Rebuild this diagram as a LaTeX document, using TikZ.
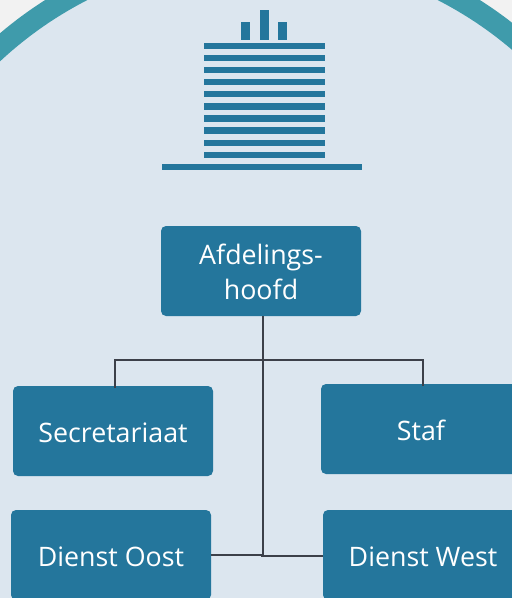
\documentclass[tikz,border=0pt]{standalone}
\usepackage{fontspec}
\setmainfont{Open Sans}
\definecolor{bgc}{HTML}{DCE6EF}
\definecolor{outc}{HTML}{F2F2F2}
\definecolor{ringc}{HTML}{3F9BAB}
\definecolor{boxc}{HTML}{24769C}
\definecolor{linec}{HTML}{3C4049}
\newcommand{\nudge}{\rule{0pt}{22.4pt}}
\tikzset{
  unit/.style={draw=none,fill=boxc,rounded corners=5pt,minimum width=200pt,minimum height=90pt,inner sep=0pt,text=white,align=center,font=\fontsize{26.8}{35}\selectfont},
  link/.style={draw=linec,line width=1.7pt},
  bar/.style={fill=boxc,draw=none}
}
\begin{document}
\begin{tikzpicture}[x=1pt,y=-1pt]
\useasboundingbox (0,0) rectangle (512,598);
\clip (0,0) rectangle (512,598);
\fill[outc] (0,0) rectangle (512,598);
\fill[bgc] (262.5,343) circle[radius=395.5pt];
\draw[ringc,line width=21pt] (262.5,343) circle[radius=395.5pt];
% building
\foreach \i in {0,...,9}{\fill[bar] (204,{43+12.07*\i}) rectangle (325,{49.2+12.07*\i});}
\fill[bar] (162,164) rectangle (362,170);
\fill[bar] (241,22) rectangle (250,40);
\fill[bar] (260,10) rectangle (269,40);
\fill[bar] (278,22) rectangle (287,40);
% units
\node[unit] (afd) at (261,271) {\nudge Afdelings-\\hoofd};
\node[unit] (sec) at (113,431) {\nudge Secretariaat};
\node[unit] (staf) at (421,429) {\nudge Staf};
\node[unit] (oost) at (111,555) {\nudge Dienst Oost};
\node[unit] (west) at (423,555) {\nudge Dienst West};
% connectors
\coordinate (top) at ([xshift=2pt]afd.south);
\coordinate (foot) at (263,555);
\coordinate (secin) at ([xshift=2pt,yshift=-2pt]sec.north);
\coordinate (stafin) at ([xshift=2pt,yshift=-2pt]staf.north);
\draw[link] (top) -- (foot);
\draw[link] (secin) -- (secin |- 0,360) -- (stafin |- 0,360) -- (stafin);
\draw[link] (oost.east) -- (foot);
\coordinate (elbow) at (261,556);
\draw[link] (elbow) -- (west.west |- elbow);
\end{tikzpicture}
\end{document}
